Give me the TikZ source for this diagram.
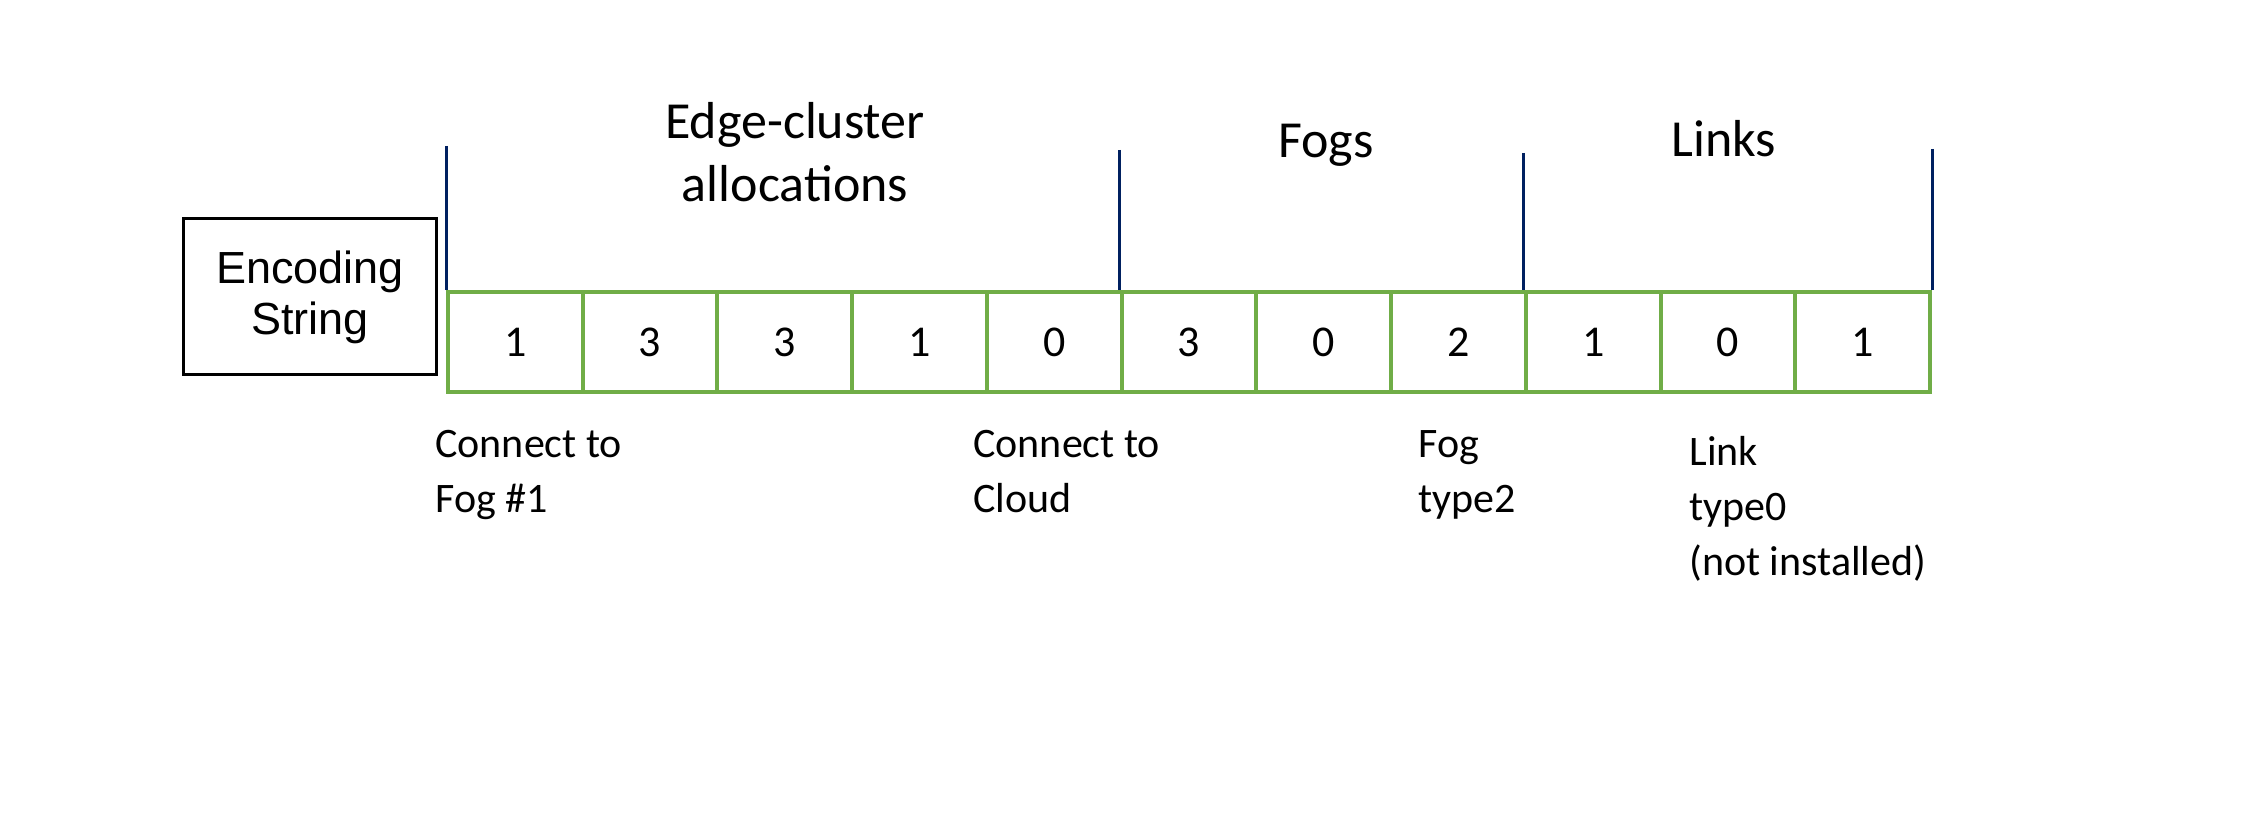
\documentclass[tikz,border=0pt]{standalone}
\usepackage{fontspec}
\setmainfont{Carlito}
\newfontfamily\arialf{Liberation Sans}
\definecolor{cellgreen}{HTML}{70AD47}
\definecolor{navy}{HTML}{002060}
\begin{document}
\begin{tikzpicture}[x=0.5pt,y=-0.5pt,
  cell/.style={draw=cellgreen,line width=2pt,minimum width=67.35pt,minimum height=50pt,inner sep=0pt,font=\fontsize{22}{26}\selectfont},
  encbox/.style={draw=black,line width=1.5pt,minimum width=126.5pt,minimum height=78pt,align=center,font=\arialf\fontsize{22.5}{25.5}\selectfont},
  sep/.style={draw=navy,line width=1.5pt},
  head/.style={align=center,font=\fontsize{26}{31.5}\selectfont},
  note/.style={align=left,anchor=north west,inner sep=0pt,font=\fontsize{21}{27.5}\selectfont}]
\useasboundingbox (0,0) rectangle (2243,838);
\node[encbox] (enc) at (310,297) {Encoding\\String};
\foreach \v [count=\i] in {1,3,3,1,0,3,0,2,1,0,1} {
  \node[cell] (c\i) at ({448+134.73*(\i-0.5)},342) {\v};
}
\coordinate (t1) at (c1.north west |- 0,146);
\coordinate (t2) at (c6.north west |- 0,150);
\coordinate (t3) at (c9.north west |- 0,153);
\coordinate (t4) at (c11.north east |- 0,149);
\draw[sep] (t1) -- (c1.north west);
\draw[sep] (t2) -- (c6.north west);
\draw[sep] (t3) -- (c9.north west);
\draw[sep] (t4) -- (c11.north east);
\node[head] (h1) at (795,152) {Edge-cluster\\allocations};
\node[head] (h2) at (1326,145) {Fogs};
\node[head] (h3) at (1724,139) {Links};
\node[note] (n1) at (435,430) {Connect to\\Fog \#1};
\node[note] (n2) at (973,430) {Connect to\\Cloud};
\node[note] (n3) at (1418,430) {Fog\\type2};
\node[note] (n4) at (1689,436) {Link\\type0\\(not installed)};
\end{tikzpicture}
\end{document}
